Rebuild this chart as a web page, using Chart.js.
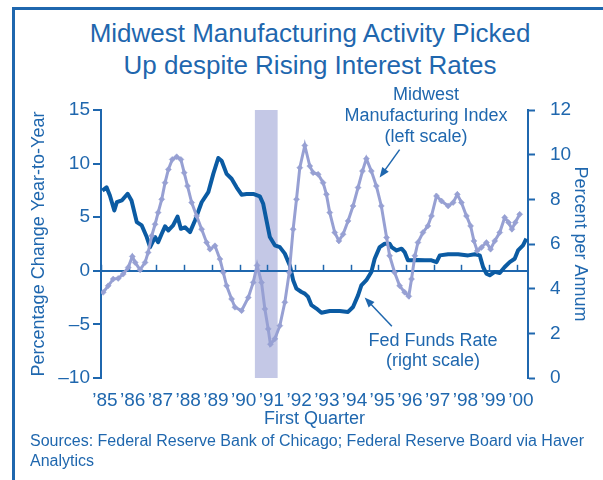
<!DOCTYPE html>
<html>
<head>
<meta charset="utf-8">
<script src="https://cdn.jsdelivr.net/npm/chart.js@4.4.1/dist/chart.umd.min.js"></script>
<style>
html, body { margin: 0; padding: 0; background: #fff; }
#wrap { position: relative; width: 603px; height: 480px; overflow: hidden; font-family: "Liberation Sans", Arial, sans-serif; color: #1f67ae; }
#frame { position: absolute; left: 12px; top: 7px; width: 600px; height: 480px; border-left: 3px solid #1f67ae; border-top: 3px solid #1f67ae; }
#title { position: absolute; left: 14px; width: 592px; top: 17px; text-align: center; font-size: 26px; line-height: 32px; }
#src { position: absolute; left: 30px; top: 431px; font-size: 16px; line-height: 20px; }
canvas { position: absolute; left: 0; top: 0; }
</style>
</head>
<body>
<div id="wrap">
  <div id="frame"></div>
  <div id="title">Midwest Manufacturing Activity Picked<br>Up despite Rising Interest Rates</div>
  <canvas id="chart" width="603" height="480"></canvas>
  <div id="src">Sources: Federal Reserve Bank of Chicago; Federal Reserve Board via Haver<br>Analytics</div>
</div>
<script>
// Fed funds rate, percent per annum (right scale)
const fedYears = [1985.05, 1985.2, 1985.32, 1985.48, 1985.57, 1985.75, 1985.96, 1986.1, 1986.29, 1986.47,
  1986.65, 1986.77, 1986.95, 1987.06, 1987.19, 1987.31, 1987.43, 1987.6, 1987.76, 1987.88,
  1988.03, 1988.21, 1988.39, 1988.63, 1988.87, 1989.05, 1989.23, 1989.35, 1989.53, 1989.71,
  1989.89, 1990.07, 1990.25, 1990.49, 1990.73, 1990.85, 1990.97, 1991.09, 1991.27, 1991.45,
  1991.63, 1991.81, 1991.93, 1992.05, 1992.23, 1992.35, 1992.47, 1992.59, 1992.77, 1992.95,
  1993.25, 1993.61, 1993.91, 1994.09, 1994.27, 1994.39, 1994.57, 1994.75, 1994.87, 1995.05,
  1995.23, 1995.41, 1995.48, 1995.66, 1995.84, 1995.95, 1996.07, 1996.25, 1996.43, 1996.68,
  1996.92, 1997.1, 1997.22, 1997.52, 1997.88, 1998.24, 1998.48, 1998.66, 1998.78, 1998.9,
  1999.02, 1999.2, 1999.38, 1999.56, 1999.74, 1999.92, 2000.04, 2000.22, 2000.34];
const fedRate = [8.39, 8.54, 8.17, 7.5, 7.87, 7.95, 8.25, 7.95, 6.98, 6.83,
  6.31, 5.86, 6.31, 6.08, 6.46, 6.79, 6.61, 6.83, 7.23, 6.68,
  6.75, 6.53, 7.05, 7.87, 8.32, 9.14, 9.85, 9.73, 9.14, 8.92,
  8.54, 8.21, 8.24, 8.24, 8.13, 7.8, 7.05, 6.31, 5.94, 5.86,
  5.57, 5.04, 4.38, 4.0, 3.85, 3.78, 3.63, 3.26, 3.11, 2.92,
  3.0, 3.0, 2.96, 3.18, 3.7, 4.15, 4.38, 4.75, 5.34, 5.86,
  6.01, 6.01, 5.86, 5.71, 5.79, 5.64, 5.27, 5.27, 5.28, 5.27,
  5.27, 5.19, 5.49, 5.54, 5.54, 5.49, 5.54, 5.49, 4.97, 4.67,
  4.6, 4.75, 4.7, 4.97, 5.19, 5.34, 5.71, 5.94, 6.24];

// Midwest Manufacturing Index, percent change year-to-year (left scale)
const mfgYears = [1985.08, 1985.26, 1985.44, 1985.62, 1985.8, 1985.98, 1986.13, 1986.23, 1986.41, 1986.59,
  1986.7, 1986.83, 1986.95, 1987.06, 1987.19, 1987.31, 1987.43, 1987.57, 1987.73, 1987.88,
  1988.0, 1988.12, 1988.27, 1988.45, 1988.63, 1988.81, 1988.93, 1989.11, 1989.29, 1989.41,
  1989.53, 1989.71, 1989.83, 1990.07, 1990.31, 1990.49, 1990.63, 1990.79, 1990.91, 1991.03,
  1991.11, 1991.27, 1991.45, 1991.63, 1991.79, 1991.93, 1992.05, 1992.17, 1992.35, 1992.53,
  1992.65, 1992.83, 1993.01, 1993.13, 1993.25, 1993.43, 1993.58, 1993.73, 1993.91, 1994.09,
  1994.27, 1994.43, 1994.57, 1994.75, 1994.93, 1995.11, 1995.3, 1995.41, 1995.59, 1995.77,
  1995.95, 1996.1, 1996.2, 1996.32, 1996.43, 1996.61, 1996.79, 1996.92, 1997.1, 1997.28,
  1997.52, 1997.7, 1997.85, 1998.0, 1998.18, 1998.33, 1998.45, 1998.57, 1998.72, 1998.9,
  1999.05, 1999.2, 1999.38, 1999.56, 1999.7, 1999.82, 1999.94, 2000.1];
const mfgIndex = [-2.01, -1.4, -0.77, -0.71, -0.31, 0.31, 1.34, 0.78, 0.09, 0.78,
  1.71, 3.26, 4.34, 5.43, 6.67, 8.22, 9.46, 10.39, 10.64, 10.39,
  9.15, 7.91, 6.36, 5.12, 3.88, 2.64, 2.02, 2.33, 1.09, -0.15,
  -1.4, -2.63, -3.4, -3.72, -2.5, -1.08, 0.5, -1.1, -3.56, -5.42,
  -6.85, -6.35, -5.12, -2.94, -0.15, 3.88, 6.67, 9.62, 11.69, 9.77,
  9.15, 9.0, 8.22, 7.13, 5.43, 3.57, 2.79, 3.41, 4.65, 6.05,
  7.76, 9.3, 10.46, 9.3, 7.91, 6.05, 3.1, 1.4, -0.15, -1.4,
  -2.0, -2.38, -0.77, 1.4, 2.64, 3.57, 4.19, 5.12, 6.98, 6.51,
  6.05, 6.36, 7.13, 6.36, 5.12, 4.19, 2.79, 1.86, 2.18, 2.64,
  2.02, 2.79, 3.57, 4.97, 4.5, 3.88, 4.5, 5.27];

const yearTicks = [1985, 1986, 1987, 1988, 1989, 1990, 1991, 1992, 1993, 1994, 1995, 1996, 1997, 1998, 1999, 2000];
const yearLabels = ["’85", "’86", "’87", "’88", "’89", "’90", "’91", "’92", "’93", "’94", "’95", "’96", "’97", "’98", "’99", "’00"];
const leftTicks = [-10, -5, 0, 5, 10, 15];
const rightTicks = [0, 2, 4, 6, 8, 10, 12];
const recession = [1990.55, 1991.37];

const blue = "#1f67ae";
const dark = "#0b5ba3";
const lilac = "#97a0d3";
const FONT = "'Liberation Sans', Arial, sans-serif";

// shaded recession band, drawn under the grid
const bandPlugin = {
  id: "band",
  beforeDraw(chart) {
    const { ctx, chartArea, scales } = chart;
    const x0 = scales.x.getPixelForValue(recession[0]);
    const x1 = scales.x.getPixelForValue(recession[1]);
    ctx.save();
    ctx.fillStyle = "#c4c8e6";
    ctx.fillRect(x0, chartArea.top, x1 - x0, chartArea.bottom - chartArea.top);
    ctx.restore();
  }
};

// little year ticks sitting on the zero line
const zeroTicks = {
  id: "zeroTicks",
  beforeDatasetsDraw(chart) {
    const { ctx, scales } = chart;
    const y0 = scales.yL.getPixelForValue(0);
    ctx.save();
    ctx.strokeStyle = blue;
    ctx.lineWidth = 1.5;
    yearTicks.forEach(v => {
      const x = Math.round(scales.x.getPixelForValue(v)) + 0.5;
      ctx.beginPath();
      ctx.moveTo(x, y0);
      ctx.lineTo(x, y0 - 6);
      ctx.stroke();
    });
    ctx.restore();
  }
};

function arrow(ctx, x0, y0, x1, y1) {
  const a = Math.atan2(y1 - y0, x1 - x0);
  ctx.beginPath();
  ctx.moveTo(x0, y0);
  ctx.lineTo(x1 - 6 * Math.cos(a), y1 - 6 * Math.sin(a));
  ctx.stroke();
  ctx.beginPath();
  ctx.moveTo(x1, y1);
  ctx.lineTo(x1 - 10 * Math.cos(a) + 4 * Math.sin(a), y1 - 10 * Math.sin(a) - 4 * Math.cos(a));
  ctx.lineTo(x1 - 10 * Math.cos(a) - 4 * Math.sin(a), y1 - 10 * Math.sin(a) + 4 * Math.cos(a));
  ctx.closePath();
  ctx.fill();
}

const notes = {
  id: "notes",
  afterDatasetsDraw(chart) {
    const { ctx, scales } = chart;
    const x = scales.x, yL = scales.yL, yR = scales.yR;
    ctx.save();
    ctx.fillStyle = blue;
    ctx.strokeStyle = blue;
    ctx.lineWidth = 1.5;
    ctx.font = "18px " + FONT;
    ctx.textAlign = "center";
    ctx.textBaseline = "middle";
    ctx.fillText("Midwest", 426, 95);
    ctx.fillText("Manufacturing Index", 426, 116);
    ctx.fillText("(left scale)", 426, 137);
    ctx.fillText("Fed Funds Rate", 433, 341);
    ctx.fillText("(right scale)", 433, 361);
    arrow(ctx, x.getPixelForValue(1995.77), yL.getPixelForValue(11.3),
               x.getPixelForValue(1995.05), yL.getPixelForValue(8.7));
    arrow(ctx, x.getPixelForValue(1995.49), yR.getPixelForValue(2.32),
               x.getPixelForValue(1994.51), yR.getPixelForValue(3.6));
    ctx.restore();
  }
};

new Chart(document.getElementById("chart"), {
  type: "line",
  data: {
    datasets: [
      {
        label: "Midwest Manufacturing Index",
        data: mfgYears.map((v, i) => ({ x: v, y: mfgIndex[i] })),
        yAxisID: "yL",
        borderColor: lilac,
        backgroundColor: lilac,
        borderWidth: 3,
        pointStyle: "rectRot",
        pointRadius: 3,
        pointBorderWidth: 0.5,
        pointBorderColor: lilac,
        tension: 0,
        order: 0
      },
      {
        label: "Fed Funds Rate",
        data: fedYears.map((v, i) => ({ x: v, y: fedRate[i] })),
        yAxisID: "yR",
        borderColor: dark,
        borderWidth: 4,
        pointRadius: 0,
        borderJoinStyle: "round",
        tension: 0,
        order: 1
      }
    ]
  },
  options: {
    responsive: false,
    animation: false,
    events: [],
    layout: { padding: { top: 110, left: 0, right: 0, bottom: 50 } },
    plugins: { legend: { display: false }, tooltip: { enabled: false } },
    scales: {
      x: {
        type: "linear",
        min: 1985,
        max: 2000.4,
        afterBuildTicks: s => { s.ticks = yearTicks.map(v => ({ value: v })); },
        afterFit: s => { s.height = 52; },
        ticks: {
          callback: (v, i) => yearLabels[i],
          font: { family: FONT, size: 19 },
          color: blue,
          padding: 11,
          labelOffset: 4,
          maxRotation: 0,
          autoSkip: false
        },
        grid: { display: false, drawTicks: false },
        border: { display: false },
        title: { display: true, text: "First Quarter", color: blue, font: { family: FONT, size: 18 }, padding: { top: 0, bottom: 0 } }
      },
      yL: {
        position: "left",
        min: -10,
        max: 15,
        afterBuildTicks: s => { s.ticks = leftTicks.map(v => ({ value: v })); },
        afterFit: s => { s.width = 101; },
        ticks: {
          callback: v => String(v).replace("-", "–"),
          font: { family: FONT, size: 19 },
          color: blue,
          padding: 3
        },
        grid: {
          drawOnChartArea: true,
          color: c => (c.tick && c.tick.value === 0 ? blue : "rgba(0,0,0,0)"),
          lineWidth: 2,
          tickLength: 8,
          tickColor: blue,
          tickWidth: 2
        },
        border: { color: blue, width: 2 },
        title: { display: true, text: "Percentage Change Year-to-Year", color: blue, font: { family: FONT, size: 18 }, padding: { top: 28 } }
      },
      yR: {
        position: "right",
        min: 0,
        max: 12,
        afterBuildTicks: s => { s.ticks = rightTicks.map(v => ({ value: v })); },
        afterFit: s => { s.width = 75; },
        ticks: {
          font: { family: FONT, size: 19 },
          color: blue,
          padding: 15
        },
        grid: { drawOnChartArea: false, tickLength: 7, tickColor: blue, tickWidth: 2 },
        border: { color: blue, width: 2 },
        title: { display: true, text: "Percent per Annum", color: blue, font: { family: FONT, size: 18 }, padding: { top: 12 } }
      }
    }
  },
  plugins: [bandPlugin, zeroTicks, notes]
});
</script>
</body>
</html>
